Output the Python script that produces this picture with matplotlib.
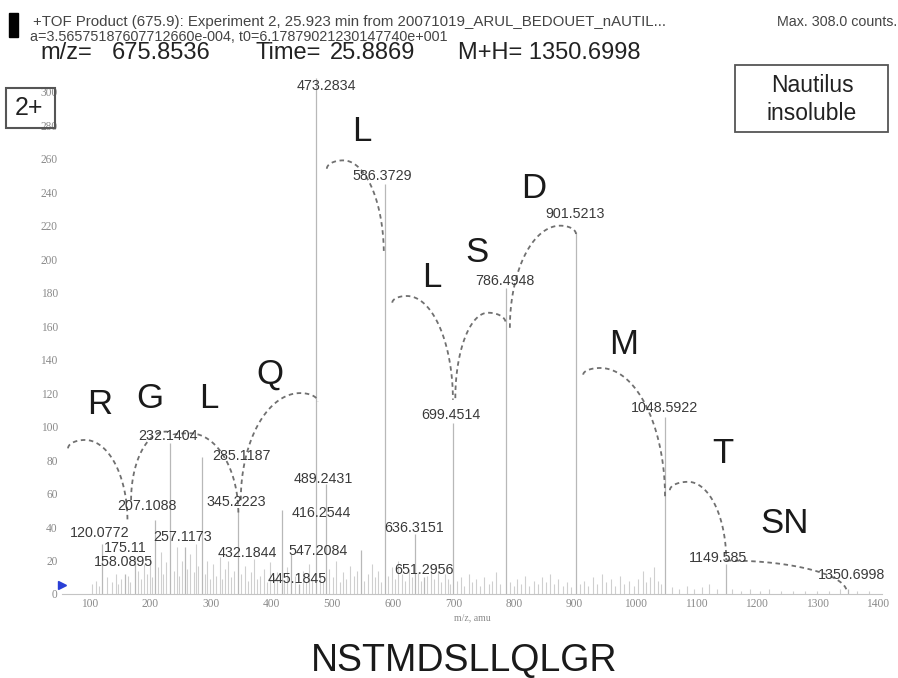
import numpy as np
import matplotlib.pyplot as plt
from matplotlib.patches import Rectangle

plt.rcParams['font.family'] = ['Liberation Sans', 'DejaVu Sans']

# labelled fragment ions
peak_mz = [120.0772, 158.0895, 175.11, 207.1088, 232.1404, 257.1173, 285.1187, 345.2223,
           416.2544, 432.1844, 445.1845, 473.2834, 489.2431, 547.2084, 586.3729, 636.3151,
           651.2956, 699.4514, 786.4948, 901.5213, 1048.5922, 1149.585, 1350.6998]
peak_counts = [30, 12, 22, 44, 90, 28, 82, 50, 50, 24, 6, 308, 66, 26, 245, 36,
               10, 102, 183, 216, 106, 18, 3]
peak_labels = ["120.0772", "158.0895", "175.11", "207.1088", "232.1404", "257.1173",
               "285.1187", "345.2223", "416.2544", "432.1844", "445.1845", "473.2834",
               "489.2431", "547.2084", "586.3729", "636.3151", "651.2956", "699.4514",
               "786.4948", "901.5213", "1048.5922", "1149.585", "1350.6998"]

# unlabelled background peaks
noise_mz = [104, 110, 115, 129, 136, 143, 147, 152, 163, 166,
            180, 184, 189, 194, 199, 203, 213, 217, 221, 226, 238, 243, 247, 252, 261,
            266, 271, 275, 279, 290, 294, 299,
            303, 308, 314, 318, 323, 328, 333, 338, 350, 356, 361, 366, 371, 376, 381,
            387, 392, 398, 403, 409, 421, 426, 438, 451, 457, 462, 467,
            479, 484, 495, 501, 506, 512, 518, 523, 530, 536, 541, 553, 559, 565, 570,
            576, 581, 592, 598, 604, 609, 615, 620, 626, 631, 642, 646, 657, 663, 668,
            674, 680, 686, 691, 695,
            706, 712, 718, 725, 731, 737, 744, 750, 758, 764, 770, 776, 793, 799, 805,
            812, 818, 825, 832, 840, 846, 852, 860, 866, 873, 880, 887, 894, 908, 915,
            922, 930, 937, 945, 952, 960, 967, 975, 982, 990, 997,
            1005, 1012, 1018, 1025, 1031, 1037, 1043,
            1060, 1072, 1085, 1097, 1110, 1122, 1135, 1160, 1175, 1190, 1205, 1220,
            1240, 1260, 1280, 1300, 1320, 1337, 1365, 1385]
noise_counts = [6, 8, 5, 10, 7, 12, 6, 9, 11, 7,
                14, 9, 18, 12, 22, 10, 16, 25, 12, 19, 14, 28, 11, 20, 15,
                24, 13, 30, 17, 12, 20, 9,
                18, 11, 22, 9, 15, 20, 10, 14, 12, 17, 8, 13, 21, 9, 11,
                15, 7, 19, 10, 13, 8, 16, 11, 14, 7, 18, 9,
                12, 8, 15, 10, 20, 7, 13, 9, 17, 11, 14, 8, 12, 18, 10,
                14, 7, 11, 16, 9, 20, 12, 8, 15, 10, 13, 8, 11, 17, 9,
                14, 7, 12, 9, 6,
                8, 10, 5, 12, 7, 9, 5, 10, 6, 8, 13, 6, 7, 5, 9,
                6, 11, 5, 8, 6, 10, 7, 12, 6, 9, 5, 7, 4, 6, 8,
                5, 10, 6, 12, 7, 9, 5, 11, 6, 8, 5,
                9, 14, 7, 10, 16, 8, 6,
                4, 3, 5, 3, 4, 6, 3, 3, 2, 3, 2, 3,
                2, 2, 2, 2, 2, 3, 2, 2]

# sequence ladder: residue and the arc (start, apex, end) joining two ions
residues = ["R", "G", "L", "Q", "L", "L", "S", "D", "M", "T", "SN"]
arc_start = [(64, 87), (168, 56), (238, 95), (349, 56), (491, 254), (599, 174),
             (703, 117), (793, 159), (914, 131), (1057, 62), (1151, 20)]
arc_apex = [(92, 92), (225, 97), (265, 96), (447, 120), (518, 259), (623, 178),
            (757, 168), (876, 220), (942, 135), (1087, 67), (1151, 20)]
arc_end = [(162, 44), (232, 96), (345, 48), (476, 115), (585, 203), (699, 116),
           (786, 162), (902, 215), (1049, 58), (1150, 20), (1349, 1)]
residue_xy = [(116, 113), (199, 117), (297, 117), (397, 131), (549, 276), (665, 189),
              (739, 204), (833, 242), (980, 149), (1145, 84), (1247, 42)]

# label nudges in pixels so they don't collide
label_offsets = [(-2, 11), (-2, 12), (-10, 9), (-8, 14), (-2, 7), (-2, 10), (39, 1),
                 (-2, 8), (40, -3), (-44, 1), (-2, 5), (10, -8), (-2, 5), (-43, -1),
                 (-2, 8), (-1, 6), (0, 7), (-2, 8), (-1, 7), (-1, 18), (0, 9), (-8, 6),
                 (4, 14)]

W, H = 898, 678


def fpos(x, y):
    return x / W, 1 - y / H


def arc_points(p0, pa, p1, n=40):
    t = np.linspace(0, np.pi / 2, n)
    x_up = pa[0] - (pa[0] - p0[0]) * np.cos(t)
    y_up = p0[1] + (pa[1] - p0[1]) * np.sin(t)
    x_dn = pa[0] + (p1[0] - pa[0]) * np.sin(t)
    y_dn = p1[1] + (pa[1] - p1[1]) * np.cos(t)
    return np.r_[x_up, x_dn], np.r_[y_up, y_dn]


fig = plt.figure(figsize=(W / 100, H / 100), dpi=100)
ax = fig.add_axes([62 / W, 84 / H, 820 / W, 519 / H])

ax.vlines(noise_mz, 0, noise_counts, color="#cfcfcf", lw=0.8)
ax.vlines(peak_mz, 0, peak_counts, color="#b8b8b8", lw=0.9)

for mz, c, lab, off in zip(peak_mz, peak_counts, peak_labels, label_offsets):
    ax.annotate(lab, (mz, c), xytext=off, textcoords="offset pixels",
                ha="center", va="center", fontsize=10.3, color="#3a3a3a",
                annotation_clip=False)

for res, p0, pa, p1, xy in zip(residues, arc_start, arc_apex, arc_end, residue_xy):
    xs, ys = arc_points(p0, pa, p1)
    ax.plot(xs, ys, color="#707070", lw=1.3, ls=(0, (2.5, 2)), clip_on=False)
    ax.text(xy[0], xy[1], res, ha="center", va="center", fontsize=25, color="#1a1a1a")

# precursor marker at the left of the baseline
ax.plot([0.0], [0.018], marker=">", color="#2a3fd6", ms=6, transform=ax.transAxes,
        clip_on=False)

ax.set_xlim(54, 1407)
ax.set_ylim(0, 310)
ax.set_xticks(range(100, 1401, 100))
ax.set_yticks(range(0, 301, 20))
for s in ["top", "right", "left"]:
    ax.spines[s].set_visible(False)
ax.spines["bottom"].set_color("#c4c4c4")
ax.tick_params(length=0, labelsize=8.3, labelcolor="#8a8a8a", pad=3)
for t in ax.get_xticklabels() + ax.get_yticklabels():
    t.set_fontfamily("Liberation Serif")
ax.set_xlabel("m/z, amu", fontsize=7, color="#8a8a8a", labelpad=2,
              fontfamily="Liberation Serif")

# header
fig.add_artist(Rectangle(fpos(9, 37), 9 / W, 24 / H, color="black",
                         transform=fig.transFigure))
fig.text(*fpos(33, 22), "+TOF Product (675.9): Experiment 2, 25.923 min from "
         "20071019_ARUL_BEDOUET_nAUTIL...", fontsize=10.8, color="#444444", va="center")
fig.text(*fpos(30, 37), "a=3.56575187607712660e-004, t0=6.17879021230147740e+001",
         fontsize=10.4, color="#444444", va="center")
fig.text(*fpos(897, 22), "Max. 308.0 counts.", fontsize=10.3, color="#444444",
         va="center", ha="right")
fig.text(*fpos(40, 53), "m/z=", fontsize=17, color="#222222", va="center")
fig.text(*fpos(112, 53), "675.8536", fontsize=17, color="#222222", va="center")
fig.text(*fpos(255, 53), "Time=", fontsize=17, color="#222222", va="center")
fig.text(*fpos(330, 53), "25.8869", fontsize=17, color="#222222", va="center")
fig.text(*fpos(458, 53), "M+H= 1350.6998", fontsize=17, color="#222222", va="center")

# boxed tags
fig.add_artist(Rectangle(fpos(6, 128), 49 / W, 40 / H, fill=False, ec="#555555",
                         lw=1.5, transform=fig.transFigure))
fig.text(*fpos(29, 108), "2+", fontsize=18, color="#222222", ha="center", va="center")
fig.add_artist(Rectangle(fpos(735, 132), 153 / W, 67 / H, fill=False, ec="#555555",
                         lw=1.3, transform=fig.transFigure))
fig.text(*fpos(812, 86), "Nautilus", fontsize=16.5, color="#222222", ha="center",
         va="center")
fig.text(*fpos(812, 113), "insoluble", fontsize=16.5, color="#222222", ha="center",
         va="center")

fig.text(*fpos(464, 661), "NSTMDSLLQLGR", fontsize=27, color="#1a1a1a", ha="center",
         va="center")

fig.savefig("out.png", dpi=100)
